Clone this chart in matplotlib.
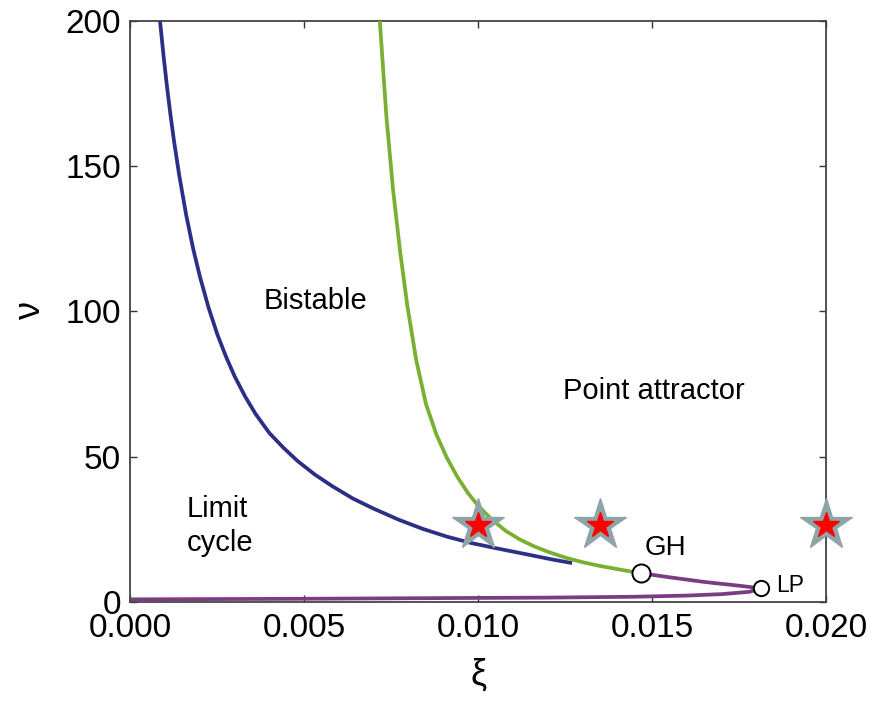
import matplotlib
matplotlib.use("Agg")
import matplotlib.pyplot as plt

plt.rcParams['font.family'] = ['Liberation Sans', 'DejaVu Sans']

# Hopf boundary (blue)
blue_xi = [0.00085, 0.00095, 0.00105, 0.00115, 0.00125, 0.00140, 0.00160, 0.00180,
           0.00200, 0.00225, 0.00250, 0.00275, 0.00300, 0.00330, 0.00360, 0.00400,
           0.00440, 0.00480, 0.00530, 0.00580, 0.00640, 0.00700, 0.00770, 0.00840,
           0.00910, 0.00980, 0.01060, 0.01140, 0.01210, 0.01270]
blue_nu = [200.0, 188.1, 177.4, 167.7, 158.8, 147.0, 133.3, 121.7,
           111.8, 101.1, 92.0, 84.3, 77.5, 70.6, 64.6, 58.0,
           53.0, 48.5, 43.8, 39.8, 35.5, 32.0, 28.3, 25.1,
           22.4, 20.2, 18.2, 16.3, 14.6, 13.3]

# Fold of limit cycles (green)
green_xi = [0.00717, 0.00736, 0.00755, 0.00775, 0.00796, 0.00822, 0.00850, 0.00880,
            0.00910, 0.00940, 0.00970, 0.01000, 0.01040, 0.01080, 0.01120, 0.01160,
            0.01200, 0.01250, 0.01300, 0.01350, 0.01410, 0.01469]
green_nu = [200.0, 167.0, 142.0, 121.0, 102.0, 83.0, 68.0, 57.5,
            49.5, 43.0, 37.5, 33.0, 28.2, 24.3, 21.4, 19.1,
            17.2, 15.2, 13.6, 12.3, 11.0, 9.8]

# Saddle-node branches (purple)
purple_xi = [0.01469, 0.01550, 0.01650, 0.01750, 0.01814,
             0.01780, 0.01700, 0.01600, 0.01450, 0.01200, 0.01000, 0.00500, 0.0]
purple_nu = [9.8, 8.4, 6.8, 5.5, 4.6,
             3.4, 2.6, 2.1, 1.7, 1.4, 1.3, 1.0, 0.8]

# Bifurcation points
gh_xi, gh_nu = 0.01469, 9.8
lp_xi, lp_nu = 0.01814, 4.6

# Sample parameter sets
star_xi = [0.0100, 0.0135, 0.0200]
star_nu = [26.5, 26.5, 26.5]

xticks = [0.000, 0.005, 0.010, 0.015, 0.020]
yticks = [0, 50, 100, 150, 200]

fig = plt.figure(figsize=(8.71, 7.02), dpi=100)
ax = fig.add_axes([0.1498, 0.1429, 0.7985, 0.8272])

ax.plot(blue_xi, blue_nu, color='#2c2f86', lw=2.7, solid_capstyle='butt',
        solid_joinstyle='round', zorder=3)
ax.plot(green_xi, green_nu, color='#78b032', lw=2.7, solid_capstyle='butt',
        solid_joinstyle='round', zorder=3)
ax.plot(purple_xi, purple_nu, color='#7a3d82', lw=2.7, solid_capstyle='butt',
        solid_joinstyle='round', zorder=3)

ax.plot([gh_xi], [gh_nu], 'o', ms=13, mfc='white', mec='black', mew=1.4, zorder=5)
ax.plot([lp_xi], [lp_nu], 'o', ms=11, mfc='white', mec='black', mew=1.4, zorder=5)

ax.plot(star_xi, star_nu, '*', ms=39, color='#8fa4a7', mec='#8fa4a7', ls='none',
        clip_on=False, zorder=6)
ax.plot(star_xi, star_nu, '*', ms=19, color='#ff0000', mec='#ff0000', ls='none',
        clip_on=False, zorder=7)

ax.text(0.00533, 103.7, 'Bistable', fontsize=21, ha='center', va='center')
ax.text(0.01504, 72.7, 'Point attractor', fontsize=21, ha='center', va='center')
ax.text(0.00162, 26.1, 'Limit\ncycle', fontsize=21, ha='left', va='center',
        linespacing=1.3)
ax.text(0.01539, 18.5, 'GH', fontsize=20, ha='center', va='center')
ax.text(0.01898, 5.7, 'LP', fontsize=16.5, ha='center', va='center')

ax.set_xlim(0, 0.020)
ax.set_ylim(0, 200)
ax.set_xticks(xticks)
ax.set_xticklabels([f'{t:.3f}' for t in xticks])
ax.set_yticks(yticks)
ax.set_yticklabels([str(t) for t in yticks])
ax.tick_params(direction='in', length=5, width=1.0, top=True, right=True,
               labelsize=24, color='#333333', pad=8)
ax.tick_params(axis='y', pad=7)
for s in ax.spines.values():
    s.set_color('#444444')
    s.set_linewidth(1.3)

ax.set_xlabel('ξ', fontsize=26, labelpad=10)
ax.set_ylabel('ν', fontsize=26, labelpad=12)

fig.savefig('out.png', dpi=100)
